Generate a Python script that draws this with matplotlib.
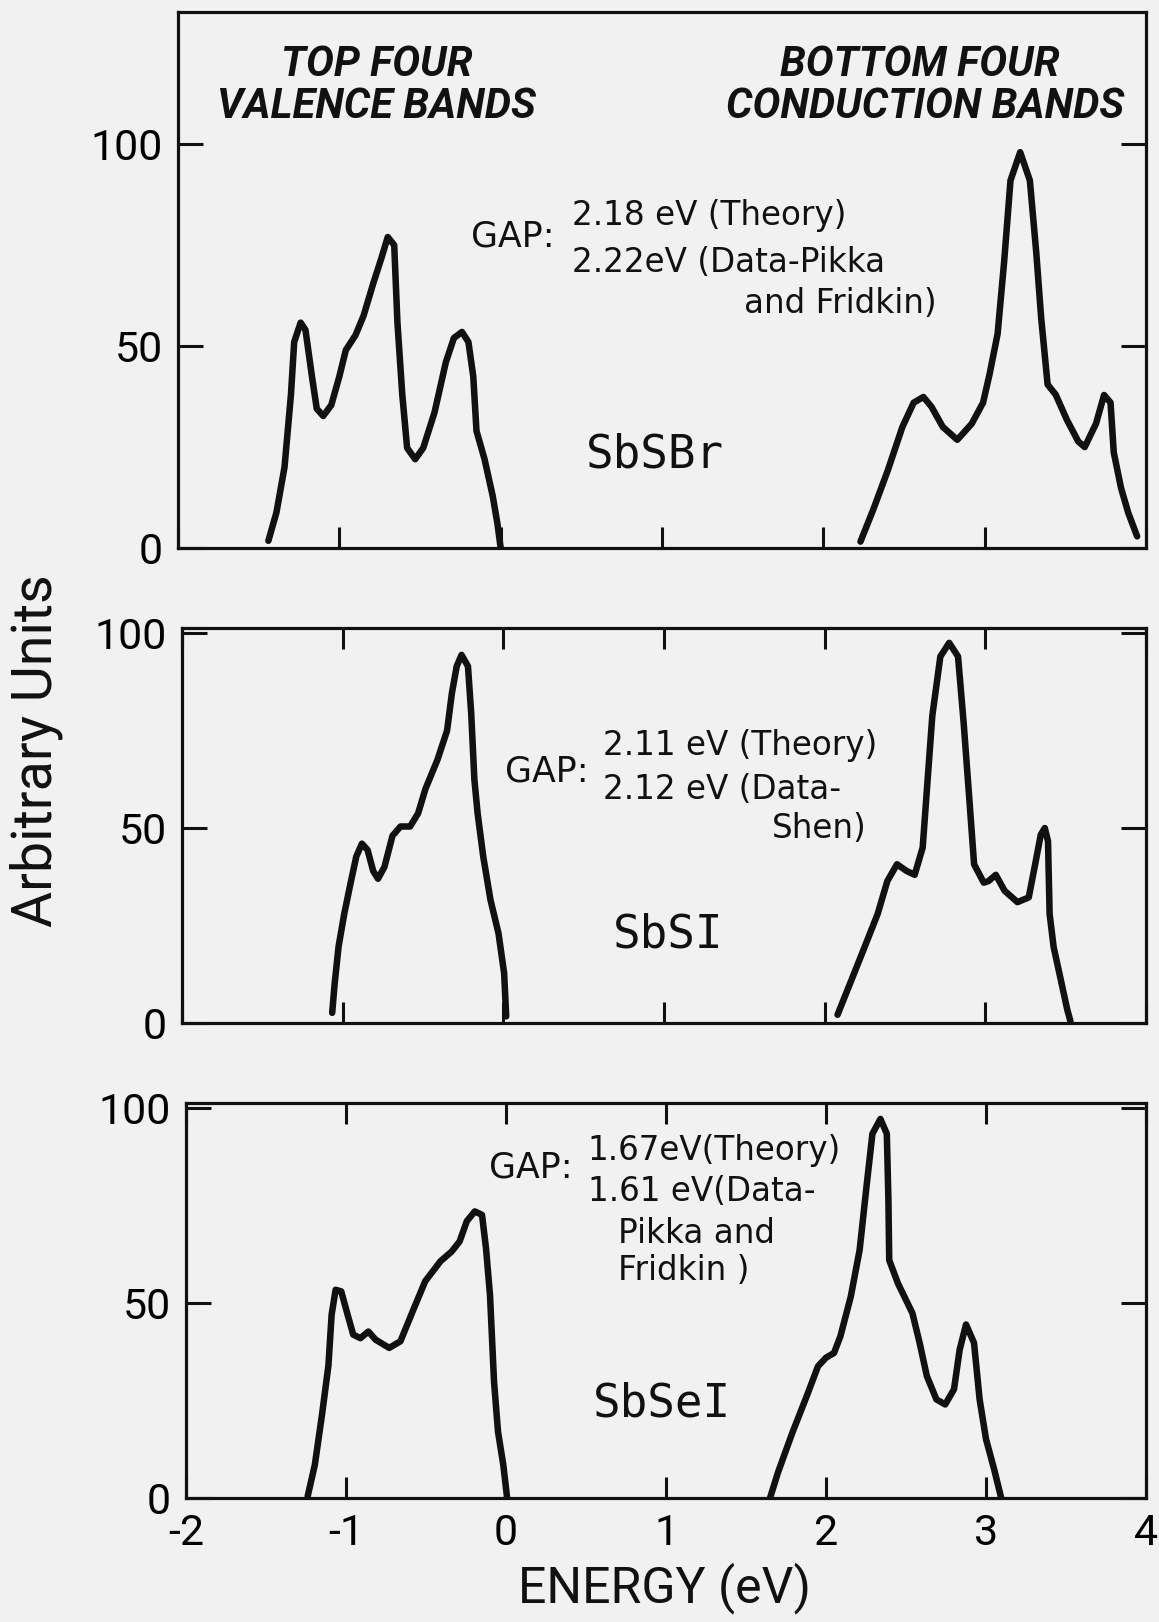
"""
Densities of states near the gap for SbSBr, SbSI and SbSeI
(top four valence bands / bottom four conduction bands).
"""
import matplotlib
matplotlib.use('Agg')
import matplotlib.pyplot as plt

plt.rcParams['font.family'] = ['Roboto', 'DejaVu Sans']

INK = '#111111'
PAPER = '#f1f1f1'

X_TICKS = [-2, -1, 0, 1, 2, 3, 4]
X_TICK_LABELS = ['-2', '-1', '0', '1', '2', '3', '4']
Y_TICKS = [0, 50, 100]
Y_TICK_LABELS = ['0', '50', '100']

# --- SbSBr -------------------------------------------------------------
sbsbr_val_e = [-1.44, -1.39, -1.34, -1.30, -1.28, -1.24, -1.21, -1.17, -1.14, -1.10,
               -1.05, -1.00, -0.96, -0.90, -0.85, -0.79, -0.74, -0.70, -0.66, -0.64,
               -0.61, -0.58, -0.53, -0.48, -0.41, -0.34, -0.29, -0.24, -0.20, -0.17,
               -0.15, -0.10, -0.05, -0.02, 0.0]
sbsbr_val_dos = [1.8, 8.8, 20, 38, 51, 55.8, 54, 42.5, 34.5, 32.7,
                 35.4, 42.5, 49, 52.7, 57.5, 65.5, 71.7, 77, 75, 55.8,
                 38, 24.8, 22, 24.8, 33.6, 46, 52, 53.5, 51, 42.5,
                 29, 22, 13, 6, 0]
sbsbr_con_e = [2.23, 2.31, 2.40, 2.49, 2.56, 2.62, 2.67, 2.74, 2.83, 2.92,
               2.99, 3.03, 3.08, 3.12, 3.16, 3.22, 3.28, 3.32, 3.35, 3.39,
               3.44, 3.51, 3.58, 3.62, 3.69, 3.74, 3.78, 3.80, 3.845, 3.89, 3.945]
sbsbr_con_dos = [1.6, 9.6, 19.3, 30, 36, 37.4, 35, 30, 26.8, 30.8,
                 36, 43, 53, 70.6, 91, 98, 91, 73, 57, 40.5,
                 38, 31.7, 26.4, 25, 30.8, 37.9, 36, 23.7, 14.9, 8.7, 2.9]

# --- SbSI --------------------------------------------------------------
sbsi_val_e = [-1.065, -1.05, -1.025, -0.99, -0.95, -0.915, -0.88, -0.845, -0.81, -0.78,
              -0.74, -0.69, -0.64, -0.58, -0.53, -0.485, -0.41, -0.35, -0.32, -0.29,
              -0.26, -0.22, -0.20, -0.18, -0.16, -0.125, -0.08, -0.03, 0.005, 0.018]
sbsi_val_dos = [2.6, 10, 19.7, 28, 36, 42.7, 46, 44.4, 39, 37,
                40, 48, 50.4, 50.4, 53.8, 60, 67.5, 75, 84.6, 91.5,
                94.4, 91.5, 79.5, 62.4, 53.8, 42.7, 31.6, 23, 12.8, 1.7]
sbsi_con_e = [2.08, 2.15, 2.24, 2.33, 2.39, 2.45, 2.51, 2.56, 2.61, 2.64,
              2.67, 2.72, 2.775, 2.83, 2.865, 2.90, 2.93, 2.99, 3.02, 3.065,
              3.12, 3.20, 3.27, 3.31, 3.345, 3.37, 3.39, 3.40, 3.425, 3.47, 3.51, 3.53]
sbsi_con_dos = [2.1, 9.3, 18.6, 28, 36.4, 40.7, 39, 38, 45, 62,
                78.8, 94, 97.5, 94, 77, 57.6, 40.7, 36, 36.4, 38,
                33.9, 31, 32.2, 40.7, 48.3, 50, 46.6, 28, 19.5, 11, 3.4, 0.4]

# --- SbSeI -------------------------------------------------------------
sbsei_val_e = [-1.24, -1.195, -1.15, -1.11, -1.09, -1.065, -1.03, -0.99, -0.955, -0.91,
               -0.86, -0.815, -0.73, -0.66, -0.575, -0.505, -0.41, -0.34, -0.29, -0.245,
               -0.195, -0.15, -0.125, -0.10, -0.075, -0.05, -0.017, 0.007]
sbsei_val_dos = [0.4, 8.5, 21.4, 34, 47, 53.4, 53, 47, 41.9, 41,
                 42.7, 40.6, 38.5, 40.2, 48.7, 55.6, 60.7, 63.2, 65.8, 71,
                 73.5, 72.6, 64, 52, 29.9, 17, 8.5, 0]
sbsei_con_e = [1.65, 1.70, 1.79, 1.88, 1.95, 2.0, 2.05, 2.09, 2.155, 2.21,
               2.255, 2.29, 2.34, 2.38, 2.39, 2.395, 2.45, 2.54, 2.585, 2.63,
               2.69, 2.745, 2.80, 2.835, 2.875, 2.925, 2.96, 3.0, 3.05, 3.095]
sbsei_con_dos = [0, 6.6, 16.8, 26.2, 33.8, 36, 37.2, 41.5, 51.7, 63.6,
                 80.6, 93.4, 97.2, 93.4, 76.4, 61, 55, 47.4, 39.8, 31.3,
                 25.3, 24, 27.9, 38, 44.5, 39.8, 25.3, 15.1, 7.5, 0]

MATERIALS = ['SbSBr', 'SbSI', 'SbSeI']


def style_axes(ax, ymax, top_ticks, show_xlabels):
    ax.set_facecolor(PAPER)
    ax.set_xlim(-2, 4)
    ax.set_ylim(0, ymax)
    for sp in ax.spines.values():
        sp.set_linewidth(2.3)
        sp.set_color(INK)
    ax.set_xticks(X_TICKS)
    ax.set_yticks(Y_TICKS)
    ax.set_yticklabels(Y_TICK_LABELS)
    if show_xlabels:
        ax.set_xticklabels(X_TICK_LABELS)
    else:
        ax.set_xticklabels([])
    ax.tick_params(axis='x', direction='in', length=15, width=2.2, color=INK,
                   top=top_ticks, bottom=True, labelsize=31, pad=11)
    ax.tick_params(axis='y', direction='in', length=18, width=2.2, color=INK,
                   left=True, right=True, labelsize=31, pad=11)


def draw_curve(ax, e, dos):
    ax.plot(e, dos, color=INK, lw=4.7, solid_joinstyle='round',
            solid_capstyle='round')


fig = plt.figure(figsize=(11.59, 16.22), dpi=100, facecolor=PAPER)

ax_top = fig.add_axes([0.1536, 0.6621, 0.8352, 0.3305])
ax_mid = fig.add_axes([0.1570, 0.3693, 0.8318, 0.2435])
ax_bot = fig.add_axes([0.1605, 0.0764, 0.8283, 0.2436])

style_axes(ax_top, 132.7, False, False)
style_axes(ax_mid, 101.3, True, False)
style_axes(ax_bot, 101.3, True, True)

draw_curve(ax_top, sbsbr_val_e, sbsbr_val_dos)
draw_curve(ax_top, sbsbr_con_e, sbsbr_con_dos)
draw_curve(ax_mid, sbsi_val_e, sbsi_val_dos)
draw_curve(ax_mid, sbsi_con_e, sbsi_con_dos)
draw_curve(ax_bot, sbsei_val_e, sbsei_val_dos)
draw_curve(ax_bot, sbsei_con_e, sbsei_con_dos)

# band headings
head = dict(fontsize=30, style='italic', weight='bold', ha='center', va='center', color=INK)
ax_top.text(-0.77, 119.8, 'TOP FOUR', **head)
ax_top.text(-0.77, 109.2, 'VALENCE BANDS', **head)
ax_top.text(2.60, 119.8, 'BOTTOM FOUR', **head)
ax_top.text(2.63, 109.2, 'CONDUCTION BANDS', **head)

# gap annotations
gap = dict(family='DejaVu Sans', fontsize=25, va='center', color=INK)
val = dict(family='DejaVu Sans', fontsize=23.5, va='center', color=INK)
ax_top.text(-0.184, 77.2, 'GAP:', ha='left', **gap)
ax_top.text(0.443, 82.4, '2.18 eV (Theory)', ha='left', **val)
ax_top.text(0.443, 70.8, '2.22eV (Data-Pikka', ha='left', **val)
ax_top.text(2.705, 60.6, 'and Fridkin)', ha='right', **val)

ax_mid.text(0.01, 64.4, 'GAP:', ha='left', **gap)
ax_mid.text(0.62, 71.3, '2.11 eV (Theory)', ha='left', **val)
ax_mid.text(0.62, 60.0, '2.12 eV (Data-', ha='left', **val)
ax_mid.text(2.263, 50.0, 'Shen)', ha='right', **val)

ax_bot.text(-0.106, 84.7, 'GAP:', ha='left', **gap)
ax_bot.text(0.51, 89.0, '1.67eV(Theory)', ha='left', **val)
ax_bot.text(0.51, 78.6, '1.61 eV(Data-', ha='left', **val)
ax_bot.text(0.70, 67.9, 'Pikka and', ha='left', **val)
ax_bot.text(0.70, 58.4, 'Fridkin )', ha='left', **val)

# compound names
comp = dict(family='DejaVu Sans Mono', fontsize=33, ha='center', va='center', color=INK)
ax_top.text(0.957, 23.0, MATERIALS[0], **comp)
ax_mid.text(1.024, 22.6, MATERIALS[1], **comp)
ax_bot.text(0.975, 24.0, MATERIALS[2], **comp)

fig.text(0.031, 0.537, 'Arbitrary Units', fontsize=40,
         rotation=90, ha='center', va='center', color=INK)
fig.text(0.573, 0.005, 'ENERGY (eV)', fontsize=36,
         ha='center', va='bottom', color=INK)

fig.savefig('out.png', dpi=100, facecolor=PAPER)
